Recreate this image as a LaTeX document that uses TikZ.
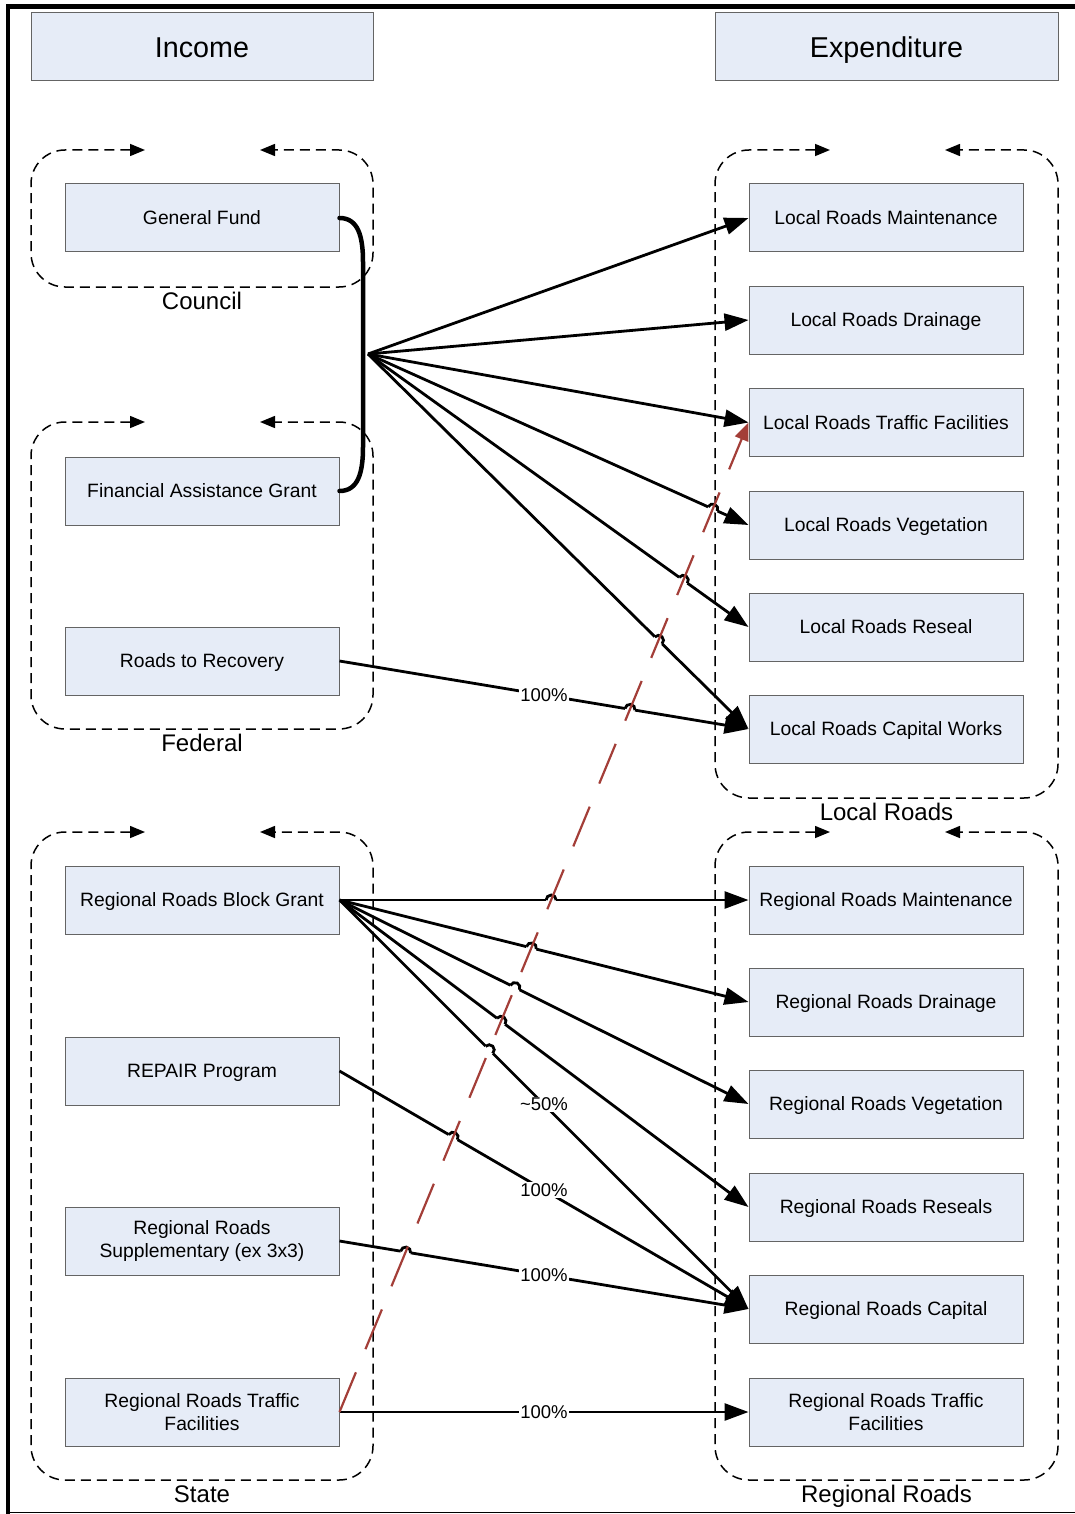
\documentclass[tikz,border=0pt]{standalone}
\usepackage{fontspec}
\setmainfont{Liberation Sans}
\usetikzlibrary{arrows.meta,intersections,calc}
\definecolor{boxfill}{RGB}{230,236,247}
\definecolor{boxline}{RGB}{100,100,100}
\definecolor{redline}{RGB}{163,62,56}
\newcommand\hopat[2]{%
  \path[name path=hopline] (#1) -- (#2);
  \path[name intersections={of=hopline and redp, by=hx}];
  \draw[white, line width=4.5pt] ($(hx)!5pt!(#1)$) -- ($(hx)!5pt!(#2)$);
  \draw[line width=2.8pt, x=1pt, y=1pt] let \p1=($(#2)-(#1)$), \n1={atan2(\y1,\x1)} in
    ($(hx)!5pt!(#1)$) arc[start angle=\n1+180, end angle=\n1, radius=5pt];
}
\begin{document}
\begin{tikzpicture}[x=1pt,y=-1pt,
  basebox/.style={draw=boxline, line width=1pt, fill=boxfill, minimum width=274pt,
    minimum height=68pt, inner sep=0pt, align=center,
    font=\fontsize{19.3}{23.5}\selectfont},
  box/.style={basebox, text height=14pt, text depth=0.5pt},
  boxtwo/.style={basebox},
  titlebox/.style={basebox, minimum width=342pt, text height=20.6pt, text depth=0.5pt,
    font=\fontsize{28.7}{32}\selectfont},
  grp/.style={line width=1.5pt, dash pattern=on 10pt off 6pt, rounded corners=34pt,
    {Triangle[length=15pt,width=12pt]}-{Triangle[length=15pt,width=12pt]}},
  grplabel/.style={anchor=base, font=\fontsize{24}{28}\selectfont},
  conn/.style={line width=2.8pt, -{Triangle[length=24pt,width=17pt]}},
  pct/.style={fill=white, inner sep=1pt, font=\fontsize{18.5}{22}\selectfont}]
\useasboundingbox (0,0) rectangle (1075,1514);
% frame
\draw[line width=4.5pt] (8,1514) -- (8,6.5) -- (1075,6.5);
\draw[line width=1.2pt] (8,1512.5) -- (1075,1512.5);
% titles
\node[titlebox] (inc) at (202,47) {Income};
\node[titlebox, minimum width=343pt] (exp) at (886.5,47) {Expenditure};
% groups
\draw[grp] (145,150) -- (31,150) -- (31,287) -- (373,287) -- (373,150) -- (260,150);
\node[grplabel] (lcouncil) at (202,309) {Council};
\draw[grp] (145,422) -- (31,422) -- (31,729) -- (373,729) -- (373,422) -- (260,422);
\node[grplabel] (lfederal) at (202,751) {Federal};
\draw[grp] (145,832) -- (31,832) -- (31,1480) -- (373,1480) -- (373,832) -- (260,832);
\node[grplabel] (lstate) at (202,1502) {State};
\draw[grp] (830,150) -- (715,150) -- (715,798) -- (1058,798) -- (1058,150) -- (945,150);
\node[grplabel] (llocal) at (886.5,820) {Local Roads};
\draw[grp] (830,832) -- (715,832) -- (715,1480) -- (1058,1480) -- (1058,832) -- (945,832);
\node[grplabel] (lregional) at (886.5,1502) {Regional Roads};
% income boxes
\node[box] (gf) at (202,218) {General Fund};
\node[box] (fag) at (202,491) {Financial Assistance Grant};
\node[box] (r2r) at (202,661) {Roads to Recovery};
\node[box] (rrbg) at (202,900) {Regional Roads Block Grant};
\node[box] (repair) at (202,1071) {REPAIR Program};
\node[boxtwo] (supp) at (202,1241) {Regional Roads\\Supplementary (ex 3x3)};
\node[boxtwo] (rrtf) at (202,1412) {Regional Roads Traffic\\Facilities};
% expenditure boxes
\node[box] (lrm) at (886,218) {Local Roads Maintenance};
\node[box] (lrd) at (886,320) {Local Roads Drainage};
\node[box] (lrtf) at (886,422.5) {Local Roads Traffic Facilities};
\node[box] (lrv) at (886,525) {Local Roads Vegetation};
\node[box] (lrr) at (886,627) {Local Roads Reseal};
\node[box] (lrcw) at (886,729) {Local Roads Capital Works};
\node[box] (rrm) at (886,900) {Regional Roads Maintenance};
\node[box] (rrd) at (886,1002) {Regional Roads Drainage};
\node[box] (rrv) at (886,1104) {Regional Roads Vegetation};
\node[box] (rrr) at (886,1207) {Regional Roads Reseals};
\node[box] (rrc) at (886,1309) {Regional Roads Capital};
\node[boxtwo] (rrtfe) at (886,1412) {Regional Roads Traffic\\Facilities};
% bracket
\draw[line width=4.5pt, line cap=round] (gf.east) .. controls (358,218) and (363,236) .. (363,262)
  -- (363,447) .. controls (363,473) and (358,491) .. (fag.east);
\coordinate (hub) at (368,354);
% connectors
\draw[conn] (hub) -- (lrm.west);
\draw[conn] (hub) -- (lrd.west);
\draw[conn] (hub) -- (lrtf.west);
\draw[conn] (hub) -- (lrv.west);
\draw[conn] (hub) -- (lrr.west);
\draw[conn] (hub) -- (lrcw.west);
\draw[conn] (r2r.east) -- node[pct] {100\%} (lrcw.west);
\draw[conn] (rrbg.east) -- (rrm.west);
\draw[conn] (rrbg.east) -- (rrd.west);
\draw[conn] (rrbg.east) -- (rrv.west);
\draw[conn] (rrbg.east) -- (rrr.west);
\draw[conn] (rrbg.east) -- node[pct] {\textasciitilde50\%} (rrc.west);
\draw[conn] (repair.east) -- node[pct] {100\%} (rrc.west);
\draw[conn] (supp.east) -- node[pct] {100\%} (rrc.west);
\draw[conn] (rrtf.east) -- node[pct] {100\%} (rrtfe.west);
% red dashed link with hops
\path[name path=redp] (rrtf.east) -- (lrtf.west);
\hopat{hub}{lrv.west}
\hopat{hub}{lrr.west}
\hopat{hub}{lrcw.west}
\hopat{r2r.east}{lrcw.west}
\hopat{rrbg.east}{rrm.west}
\hopat{rrbg.east}{rrd.west}
\hopat{rrbg.east}{rrv.west}
\hopat{rrbg.east}{rrr.west}
\hopat{rrbg.east}{rrc.west}
\hopat{repair.east}{rrc.west}
\hopat{supp.east}{rrc.west}
\draw[redline, line width=2.2pt, dash pattern=on 43pt off 25pt,
  -{Triangle[length=18pt,width=14pt]}] (rrtf.east) -- (lrtf.west);
\end{tikzpicture}
\end{document}
